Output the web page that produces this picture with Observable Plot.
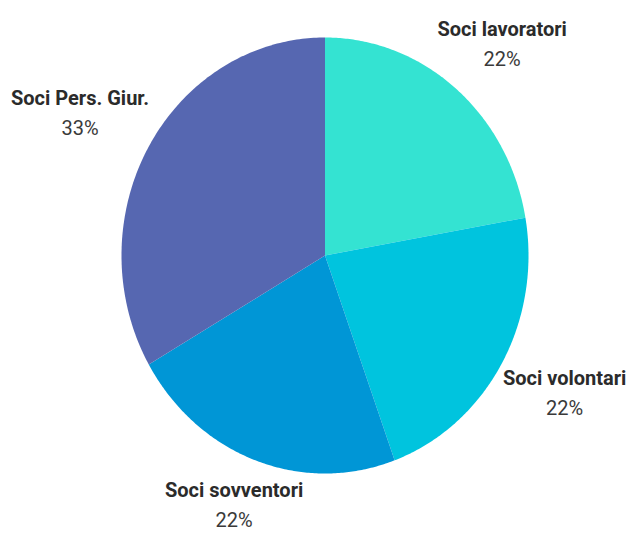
<!DOCTYPE html>
<html><head><meta charset="utf-8">
<script src="https://cdn.jsdelivr.net/npm/d3@7"></script>
<script src="https://cdn.jsdelivr.net/npm/@observablehq/plot@0.6"></script>
<style>body{margin:0;background:#fff}</style></head>
<body><div id="chart"></div>
<script>
const categories = ["Soci lavoratori", "Soci volontari", "Soci sovventori", "Soci Pers. Giur."];
const values = [2, 2, 2, 3];
const percentLabels = ["22%", "22%", "22%", "33%"];
const colors = ["#34e3d2", "#00c4de", "#0096d6", "#5667b1"];

const W = 629, H = 534, mL = 121, mR = 101, mT = 37, mB = 61;
const rx = (W - mL - mR) / 2, ry = (H - mT - mB) / 2;
const arcs = d3.pie().sort(null).value(d => d)(values);

const slicePts = [];
arcs.forEach((p, i) => {
  const cat = categories[i];
  slicePts.push({cat, x: 0, y: 0});
  const n = 150;
  for (let k = 0; k <= n; k++) {
    const a = p.startAngle + (p.endAngle - p.startAngle) * k / n;
    slicePts.push({cat, x: Math.sin(a), y: Math.cos(a)});
  }
  slicePts.push({cat, x: 0, y: 0});
});

const FS = 20;
const ctx = document.createElement("canvas").getContext("2d");
const labels = arcs.map((p, i) => {
  const a = (p.startAngle + p.endAngle) / 2;
  const dx = Math.sin(a), dy = Math.cos(a);
  ctx.font = `bold ${FS}px Roboto`;
  const w1 = ctx.measureText(categories[i]).width;
  ctx.font = `${FS}px Roboto`;
  const w2 = ctx.measureText(percentLabels[i]).width;
  const w = Math.max(w1, w2), h = 44;
  const R = Math.hypot(rx * dx, ry * dy);
  const dist = R + 5 + Math.abs(dx) * w / 2 + Math.abs(dy) * h / 2;
  return {cat: categories[i], pct: percentLabels[i], x: dist * dx / rx, y: dist * dy / ry};
});

const chart = Plot.plot({
  width: W, height: H,
  marginLeft: mL, marginRight: mR, marginTop: mT, marginBottom: mB,
  x: {domain: [-1, 1], axis: null},
  y: {domain: [-1, 1], axis: null},
  color: {domain: categories, range: colors},
  style: {fontFamily: "Roboto, sans-serif", background: "white", overflow: "visible"},
  marks: [
    Plot.line(slicePts, {x: "x", y: "y", z: "cat", fill: "cat", stroke: "none"}),
    Plot.text(labels, {x: "x", y: "y", text: "cat", fontWeight: "bold", fontSize: FS, dy: -15, fill: "#2b2b2b"}),
    Plot.text(labels, {x: "x", y: "y", text: "pct", fontSize: FS, dy: 15, fill: "#3a3a3a"})
  ]
});
document.getElementById("chart").append(chart);
</script>
</body></html>
